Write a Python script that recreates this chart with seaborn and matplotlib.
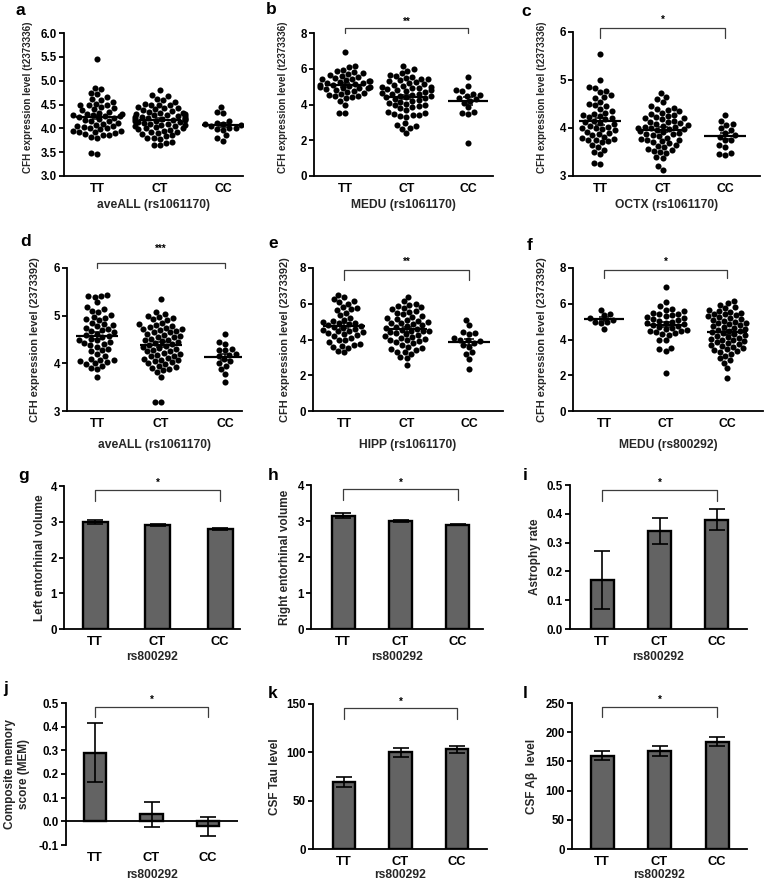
import warnings
warnings.filterwarnings('ignore')
import numpy as np
import pandas as pd
import matplotlib
matplotlib.use('Agg')
import matplotlib.pyplot as plt
import matplotlib.transforms as mtransforms
from matplotlib.ticker import FormatStrFormatter
import seaborn as sns

genotypes = ['TT', 'CT', 'CC']

# ---- panel a: aveALL (rs1061170), t2373336 ----
a_TT = [5.45, 4.85, 4.82, 4.75, 4.72, 4.65, 4.62, 4.6, 4.55, 4.52, 4.5, 4.5, 4.48, 4.45, 4.42, 4.4,
        4.38, 4.35, 4.33, 4.3, 4.3, 4.28, 4.27, 4.25, 4.25, 4.23, 4.22, 4.2, 4.18, 4.15, 4.15, 4.12,
        4.1, 4.08, 4.05, 4.05, 4.02, 4.0, 4.0, 3.98, 3.95, 3.95, 3.93, 3.92, 3.9, 3.88, 3.85, 3.85,
        3.82, 3.8, 3.48, 3.46]
a_CT = [4.8, 4.7, 4.68, 4.62, 4.6, 4.55, 4.52, 4.5, 4.5, 4.48, 4.45, 4.43, 4.42, 4.4, 4.38, 4.36,
        4.35, 4.33, 4.32, 4.3, 4.3, 4.28, 4.27, 4.26, 4.25, 4.24, 4.23, 4.22, 4.21, 4.2, 4.2, 4.19,
        4.18, 4.17, 4.16, 4.15, 4.14, 4.13, 4.12, 4.1, 4.1, 4.08, 4.07, 4.05, 4.04, 4.02, 4.0, 4.0,
        3.98, 3.97, 3.95, 3.93, 3.92, 3.9, 3.88, 3.85, 3.83, 3.8, 3.8, 3.78, 3.72, 3.7, 3.66, 3.64]
a_CC = [4.45, 4.35, 4.33, 4.15, 4.12, 4.1, 4.1, 4.08, 4.05, 4.0, 4.0, 3.98, 3.97, 3.85, 3.8, 3.74]

# ---- panel b: MEDU (rs1061170), t2373336 ----
b_TT = [6.95, 6.15, 6.1, 5.95, 5.85, 5.8, 5.75, 5.7, 5.65, 5.6, 5.55, 5.5, 5.45, 5.4, 5.35, 5.3,
        5.3, 5.25, 5.2, 5.2, 5.15, 5.1, 5.1, 5.05, 5.0, 5.0, 4.95, 4.9, 4.9, 4.85, 4.8, 4.75, 4.7,
        4.65, 4.6, 4.55, 4.5, 4.45, 4.4, 4.35, 4.2, 4.0, 3.55, 3.5]
b_CT = [6.15, 6.0, 5.9, 5.75, 5.65, 5.6, 5.55, 5.5, 5.45, 5.4, 5.35, 5.3, 5.25, 5.2, 5.15, 5.1,
        5.05, 5.0, 5.0, 4.95, 4.9, 4.85, 4.8, 4.8, 4.75, 4.7, 4.65, 4.6, 4.6, 4.55, 4.5, 4.45, 4.4,
        4.4, 4.35, 4.3, 4.25, 4.2, 4.15, 4.1, 4.05, 4.0, 3.95, 3.9, 3.85, 3.8, 3.7, 3.6, 3.55, 3.45,
        3.4, 3.4, 3.35, 3.3, 2.95, 2.85, 2.8, 2.7, 2.65, 2.4]
b_CC = [5.55, 5.05, 4.8, 4.75, 4.6, 4.55, 4.5, 4.35, 4.3, 4.2, 4.1, 3.85, 3.6, 3.5, 3.45, 1.85]

# ---- panel c: OCTX (rs1061170), t2373336 ----
c_TT = [5.55, 5.0, 4.85, 4.83, 4.78, 4.75, 4.68, 4.65, 4.62, 4.55, 4.5, 4.48, 4.45, 4.4, 4.35,
        4.32, 4.3, 4.27, 4.25, 4.22, 4.2, 4.18, 4.15, 4.12, 4.1, 4.08, 4.05, 4.03, 4.0, 4.0, 3.98,
        3.95, 3.92, 3.9, 3.88, 3.85, 3.82, 3.8, 3.78, 3.75, 3.75, 3.72, 3.7, 3.65, 3.6, 3.55, 3.5,
        3.45, 3.27, 3.26]
c_CT = [4.73, 4.65, 4.6, 4.55, 4.45, 4.42, 4.4, 4.38, 4.35, 4.32, 4.3, 4.28, 4.25, 4.23, 4.2, 4.2,
        4.18, 4.15, 4.13, 4.12, 4.1, 4.08, 4.06, 4.05, 4.03, 4.02, 4.0, 4.0, 3.98, 3.97, 3.95, 3.93,
        3.92, 3.9, 3.88, 3.87, 3.85, 3.83, 3.8, 3.78, 3.76, 3.75, 3.72, 3.7, 3.68, 3.65, 3.62, 3.6,
        3.57, 3.55, 3.52, 3.5, 3.48, 3.4, 3.38, 3.2, 3.12]
c_CC = [4.27, 4.15, 4.08, 4.07, 4.0, 3.95, 3.9, 3.85, 3.82, 3.75, 3.75, 3.65, 3.6, 3.47, 3.45, 3.44]

# ---- panel d: aveALL (rs1061170), 2373392 ----
d_TT = [5.43, 5.42, 5.42, 5.4, 5.28, 5.18, 5.15, 5.1, 5.08, 5.02, 4.98, 4.95, 4.92, 4.9, 4.85,
        4.82, 4.8, 4.78, 4.75, 4.72, 4.7, 4.68, 4.65, 4.62, 4.6, 4.58, 4.55, 4.52, 4.5, 4.48, 4.45,
        4.42, 4.4, 4.38, 4.35, 4.3, 4.28, 4.25, 4.2, 4.15, 4.1, 4.08, 4.06, 4.05, 4.03, 4.0, 3.98,
        3.95, 3.9, 3.88, 3.72]
d_CT = [5.35, 5.08, 5.03, 5.0, 4.97, 4.95, 4.92, 4.9, 4.85, 4.82, 4.8, 4.78, 4.76, 4.75, 4.73,
        4.72, 4.7, 4.68, 4.66, 4.65, 4.62, 4.6, 4.58, 4.56, 4.55, 4.52, 4.5, 4.48, 4.46, 4.45, 4.42,
        4.4, 4.38, 4.36, 4.35, 4.32, 4.3, 4.28, 4.26, 4.25, 4.22, 4.2, 4.18, 4.16, 4.15, 4.12, 4.1,
        4.08, 4.06, 4.05, 4.02, 4.0, 3.98, 3.95, 3.92, 3.9, 3.88, 3.85, 3.82, 3.72, 3.18, 3.18]
d_CC = [4.62, 4.45, 4.4, 4.3, 4.28, 4.27, 4.2, 4.18, 4.15, 4.1, 4.05, 4.0, 3.95, 3.88, 3.78, 3.6]

# ---- panel e: HIPP (rs1061170), 2373392 ----
e_TT = [6.5, 6.4, 6.25, 6.15, 6.1, 6.0, 5.8, 5.75, 5.7, 5.65, 5.5, 5.35, 5.2, 5.1, 5.05, 5.0,
        4.95, 4.9, 4.85, 4.8, 4.75, 4.7, 4.65, 4.6, 4.55, 4.5, 4.45, 4.4, 4.35, 4.3, 4.25, 4.2,
        4.1, 4.0, 3.95, 3.85, 3.75, 3.7, 3.65, 3.6, 3.55, 3.35, 3.3]
e_CT = [6.4, 6.15, 6.0, 5.95, 5.85, 5.8, 5.75, 5.7, 5.6, 5.55, 5.5, 5.4, 5.3, 5.25, 5.2, 5.15,
        5.1, 5.05, 5.0, 4.95, 4.9, 4.85, 4.8, 4.75, 4.7, 4.65, 4.6, 4.55, 4.5, 4.5, 4.45, 4.4, 4.35,
        4.3, 4.25, 4.2, 4.15, 4.1, 4.05, 4.0, 3.95, 3.9, 3.85, 3.8, 3.7, 3.6, 3.5, 3.45, 3.4, 3.3,
        3.3, 3.2, 3.0, 2.95, 2.55]
e_CC = [5.1, 4.8, 4.4, 4.35, 4.3, 4.1, 4.0, 3.95, 3.9, 3.8, 3.7, 3.6, 3.3, 3.2, 2.9, 2.35]

# ---- panel f: MEDU (rs800292), 2373392 ----
f_TT = [5.65, 5.4, 5.35, 5.2, 5.1, 5.0, 5.0, 4.9, 4.6]
f_CT = [6.95, 6.1, 5.85, 5.7, 5.65, 5.6, 5.5, 5.45, 5.4, 5.35, 5.3, 5.25, 5.2, 5.15, 5.1, 5.05,
        5.0, 4.95, 4.9, 4.85, 4.8, 4.75, 4.7, 4.65, 4.6, 4.55, 4.5, 4.45, 4.4, 4.35, 4.3, 4.25,
        4.0, 3.95, 3.5, 3.45, 3.35, 2.15]
f_CC = [6.15, 6.05, 5.95, 5.8, 5.75, 5.65, 5.6, 5.55, 5.5, 5.45, 5.4, 5.35, 5.3, 5.25, 5.2, 5.15,
        5.1, 5.05, 5.0, 4.95, 4.9, 4.85, 4.8, 4.75, 4.7, 4.65, 4.6, 4.55, 4.5, 4.45, 4.4, 4.35,
        4.3, 4.25, 4.2, 4.15, 4.1, 4.05, 4.0, 3.95, 3.9, 3.85, 3.8, 3.75, 3.7, 3.65, 3.6, 3.5,
        3.45, 3.4, 3.35, 3.3, 3.2, 3.1, 2.95, 2.85, 2.7, 2.4, 1.85]

# ---- bar panels (mean, SEM) ----
g_mean = [3.0, 2.9, 2.8];     g_sem = [0.06, 0.03, 0.02]
h_mean = [3.15, 3.0, 2.9];    h_sem = [0.07, 0.03, 0.02]
i_mean = [0.17, 0.34, 0.38];  i_sem = [0.10, 0.044, 0.037]
j_mean = [0.29, 0.03, -0.02]; j_sem = [0.125, 0.052, 0.04]
k_mean = [69, 100, 103];      k_sem = [5, 5, 4]
l_mean = [160, 168, 184];     l_sem = [7, 8, 7]

sig_b, sig_c, sig_d, sig_e, sig_f = '**', '*', '***', '**', '*'
sig_bars = '*'

# ---------------------------------------------------------------
sns.set_theme(style='ticks')
plt.rcParams['font.family'] = ['Liberation Sans', 'DejaVu Sans']
plt.rcParams['font.weight'] = 'bold'
plt.rcParams['axes.labelweight'] = 'bold'
plt.rcParams['axes.unicode_minus'] = False
plt.rcParams['axes.linewidth'] = 1.3
plt.rcParams['axes.edgecolor'] = 'black'
plt.rcParams['text.color'] = 'black'
plt.rcParams['xtick.color'] = 'black'
plt.rcParams['ytick.color'] = 'black'

W, H = 764, 885
fig = plt.figure(figsize=(W / 100, H / 100), dpi=100)


def add_ax(box):
    l, r, t, b = box
    return fig.add_axes([l / W, 1 - b / H, (r - l) / W, (b - t) / H])


def style_axes(ax, box, ylim, yticks, yfmt, ylabel, xlabel, xlim, ylab_off, xlab_off,
               ylab_size, xtick_size, ylab_y=0.5):
    l, r, t, b = box
    ax.set_ylim(*ylim)
    ax.set_yticks(yticks)
    ax.yaxis.set_major_formatter(FormatStrFormatter(yfmt))
    ax.set_xlim(*xlim)
    sns.despine(ax=ax)
    ax.tick_params(axis='x', length=0, pad=5, labelsize=xtick_size)
    ax.tick_params(axis='y', length=3.5, width=1.3, pad=1.5, labelsize=8.3)
    for lab in ax.get_xticklabels() + ax.get_yticklabels():
        lab.set_fontweight('bold')
    ax.set_ylabel(ylabel, fontsize=ylab_size, fontweight='bold', va='center', ha='center',
                  multialignment='center')
    ax.yaxis.set_label_coords(-ylab_off / (r - l), ylab_y)
    ax.set_xlabel(xlabel, fontsize=8.7, fontweight='bold', va='center')
    ax.xaxis.set_label_coords(0.5, -xlab_off / (b - t))


def bracket(ax, box, y_line, y_leg, y_star, stars):
    l, r, t, b = box
    f = lambda y: (b - y) / (b - t)
    tr = mtransforms.blended_transform_factory(ax.transData, ax.transAxes)
    x0, x1 = genotypes.index('TT'), genotypes.index('CC')
    ax.plot([x0, x0, x1, x1], [f(y_leg), f(y_line), f(y_line), f(y_leg)], transform=tr,
            color='#3c3c3c', lw=0.9, clip_on=False, scalex=False, scaley=False)
    ax.text((x0 + x1) / 2, f(y_star), stars, transform=tr, ha='center', va='center',
            fontsize=7, fontweight='bold', clip_on=False)


def scatter_panel(box, groups, ylim, yticks, yfmt, ylabel, xlabel, xlim, ylab_off,
                  xlab_off, ylab_size, ylab_y=0.5):
    ax = add_ax(box)
    df = pd.DataFrame({'genotype': np.repeat(genotypes, [len(g) for g in groups]),
                       'value': np.concatenate([np.asarray(g, float) for g in groups])})
    sns.swarmplot(data=df, x='genotype', y='value', order=genotypes, color='black',
                  size=4.4, linewidth=0, ax=ax, zorder=2)
    for i, g in enumerate(groups):
        g = np.asarray(g, float)
        m = g.mean()
        se = g.std(ddof=1) / np.sqrt(len(g))
        ax.hlines(m, i - 0.33, i + 0.33, color='black', lw=1.6, zorder=3)
        ax.errorbar(i, m, yerr=se, fmt='none', ecolor='black', elinewidth=1.1,
                    capsize=3.5, capthick=1.1, zorder=3)
    style_axes(ax, box, ylim, yticks, yfmt, ylabel, xlabel, xlim, ylab_off, xlab_off,
               ylab_size, 8.8, ylab_y)
    return ax


def bar_panel(box, means, sems, ylim, yticks, yfmt, ylabel, xlabel, xlim, ylab_off,
              xlab_off, zero_line=False):
    ax = add_ax(box)
    df = pd.DataFrame({'genotype': genotypes, 'value': means})
    sns.barplot(data=df, x='genotype', y='value', order=genotypes, color='#636363',
                saturation=1, edgecolor='black', linewidth=1.7, width=0.4, errorbar=None,
                ax=ax, zorder=2)
    ax.errorbar(range(len(genotypes)), means, yerr=sems, fmt='none', ecolor='black',
                elinewidth=1.2, capsize=6, capthick=1.2, zorder=3)
    style_axes(ax, box, ylim, yticks, yfmt, ylabel, xlabel, xlim, ylab_off, xlab_off,
               8.5, 9.3)
    if zero_line:
        ax.spines['bottom'].set_visible(False)
        ax.axhline(0, color='black', lw=1.3, zorder=4)
    return ax


# boxes: (left, right, top, bottom) in pixels
box_a = (64, 243, 33, 176)
box_b = (314, 493, 33, 176)
box_c = (573, 760, 32, 176)
box_d = (67, 242, 268, 411)
box_e = (313, 503, 268, 411)
box_f = (573, 763, 268, 411)
box_g = (64, 240, 486, 629)
box_h = (311, 483, 485, 629)
box_i = (570, 747, 485, 629)
box_j = (66, 238, 703, 845)
box_k = (313, 487, 704, 849)
box_l = (572, 747, 703, 849)

ax_a = scatter_panel(box_a, [a_TT, a_CT, a_CC], (3.0, 6.0), [3.0, 3.5, 4.0, 4.5, 5.0, 5.5, 6.0],
                     '%.1f', 'CFH expression level (t2373336)', 'aveALL (rs1061170)',
                     (-0.524, 2.317), 36, 29, 7.1, 0.55)
ax_b = scatter_panel(box_b, [b_TT, b_CT, b_CC], (0, 8), [0, 2, 4, 6, 8], '%d',
                     'CFH expression level (t2373336)', 'MEDU (rs1061170)',
                     (-0.504, 2.407), 31, 29, 7.1, 0.55)
ax_c = scatter_panel(box_c, [c_TT, c_CT, c_CC], (3, 6), [3, 4, 5, 6], '%d',
                     'CFH expression level (t2373336)', 'OCTX (rs1061170)',
                     (-0.432, 2.56), 31, 29, 7.1, 0.55)
ax_d = scatter_panel(box_d, [d_TT, d_CT, d_CC], (3, 6), [3, 4, 5, 6], '%d',
                     'CFH expression level (2373392)', 'aveALL (rs1061170)',
                     (-0.469, 2.266), 32, 34, 7.9)
ax_e = scatter_panel(box_e, [e_TT, e_CT, e_CC], (0, 8), [0, 2, 4, 6, 8], '%d',
                     'CFH expression level (2373392)', 'HIPP (rs1061170)',
                     (-0.496, 2.544), 28, 34, 7.9)
ax_f = scatter_panel(box_f, [f_TT, f_CT, f_CC], (0, 8), [0, 2, 4, 6, 8], '%d',
                     'CFH expression level (2373392)', 'MEDU (rs800292)',
                     (-0.504, 2.585), 31, 34, 7.9)

ax_g = bar_panel(box_g, g_mean, g_sem, (0, 4), [0, 1, 2, 3, 4], '%d',
                 'Left entorhinal volume', 'rs800292', (-0.496, 2.32), 24, 28)
ax_h = bar_panel(box_h, h_mean, h_sem, (0, 4), [0, 1, 2, 3, 4], '%d',
                 'Right entorhinal volume', 'rs800292', (-0.557, 2.435), 26, 28)
ax_i = bar_panel(box_i, i_mean, i_sem, (0, 0.5), [0.0, 0.1, 0.2, 0.3, 0.4, 0.5], '%.1f',
                 'Astrophy rate', 'rs800292', (-0.557, 2.522), 35, 28)
ax_j = bar_panel(box_j, j_mean, j_sem, (-0.1, 0.5), [-0.1, 0.0, 0.1, 0.2, 0.3, 0.4, 0.5],
                 '%.1f', 'Composite memory\nscore (MEM)', 'rs800292', (-0.513, 2.53), 49, 30,
                 zero_line=True)
ax_k = bar_panel(box_k, k_mean, k_sem, (0, 150), [0, 50, 100, 150], '%d',
                 'CSF Tau level', 'rs800292', (-0.549, 2.53), 38, 26)
ax_l = bar_panel(box_l, l_mean, l_sem, (0, 250), [0, 50, 100, 150, 200, 250], '%d',
                 'CSF A\u03b2  level', 'rs800292', (-0.522, 2.52), 40, 26)

# significance brackets (pixel positions of line, leg ends, star)
bracket(ax_b, box_b, 28, 33, 22, sig_b)
bracket(ax_c, box_c, 28, 38, 20, sig_c)
bracket(ax_d, box_d, 263, 268, 249, sig_d)
bracket(ax_e, box_e, 270, 280, 262, sig_e)
bracket(ax_f, box_f, 270, 278, 262, sig_f)
bracket(ax_g, box_g, 490, 501, 483, sig_bars)
bracket(ax_h, box_h, 489, 500, 483, sig_bars)
bracket(ax_i, box_i, 490, 501, 483, sig_bars)
bracket(ax_j, box_j, 707, 717, 700, sig_bars)
bracket(ax_k, box_k, 708, 719, 702, sig_bars)
bracket(ax_l, box_l, 707, 717, 700, sig_bars)

# panel letters
letters = [('a', 16, 3), ('b', 266, 2), ('c', 521, 4), ('d', 20, 234), ('e', 268, 236),
           ('f', 527, 238), ('g', 18, 468), ('h', 268, 468), ('i', 523, 468),
           ('j', 3, 681), ('k', 268, 686), ('l', 523, 686)]
for ch, x, y in letters:
    fig.text(x / W, 1 - y / H, ch, fontsize=12.5, fontweight='bold', ha='left', va='top')

fig.savefig('out.png', dpi=100, facecolor='white')
